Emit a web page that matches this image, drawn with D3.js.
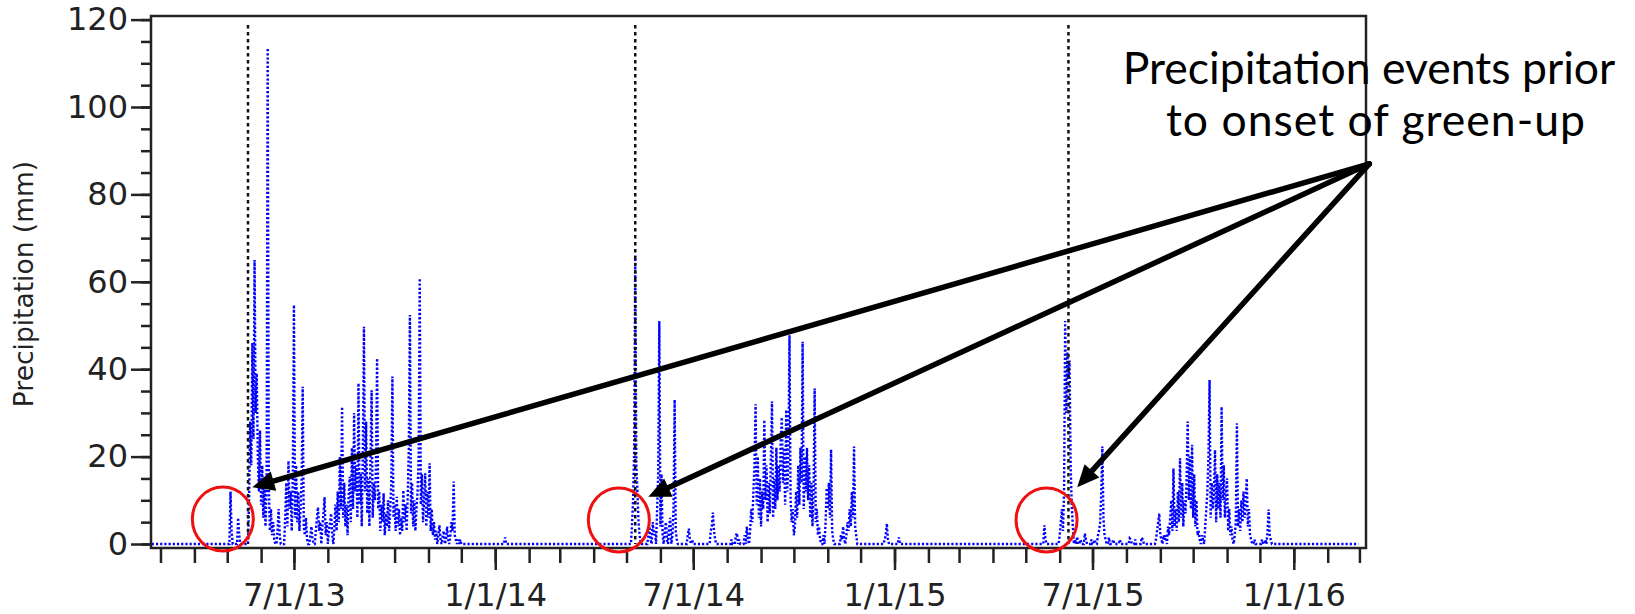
<!DOCTYPE html>
<html>
<head>
<meta charset="utf-8">
<script src="https://cdn.jsdelivr.net/npm/d3@7"></script>
<style>
  body { margin: 0; background: #fff; }
  svg { display: block; }
</style>
</head>
<body>
<script>
// Daily precipitation (mm). Days that are not listed had no rain.
var days2013 = ["05-04","05-05","05-11","05-12","05-21","05-22","05-23","05-24","05-25","05-26","05-27","05-28","05-29","05-30","05-31",
  "06-01","06-02","06-03","06-04","06-05","06-06","06-07","06-08","06-09","06-10","06-11","06-12","06-13","06-16","06-17","06-18","06-23","06-24","06-25","06-26","06-27","06-28","06-29","06-30",
  "07-01","07-02","07-03","07-04","07-05","07-06","07-07","07-08","07-09","07-10","07-11","07-12","07-13","07-16","07-17","07-18","07-21","07-22","07-23","07-24","07-25","07-27","07-28","07-29","07-30","07-31",
  "08-02","08-03","08-04","08-05","08-07","08-08","08-09","08-10","08-11","08-12","08-13","08-14","08-15","08-16","08-17","08-18","08-19","08-20","08-21","08-22","08-23","08-24","08-25","08-26","08-27","08-28","08-29","08-30","08-31",
  "09-01","09-02","09-03","09-04","09-05","09-06","09-07","09-08","09-09","09-10","09-11","09-12","09-13","09-14","09-15","09-16","09-17","09-18","09-19","09-20","09-21","09-22","09-23","09-24","09-25","09-26","09-27","09-28","09-29","09-30",
  "10-01","10-02","10-03","10-04","10-05","10-06","10-07","10-08","10-09","10-10","10-11","10-12","10-13","10-14","10-15","10-16","10-17","10-18","10-19","10-20","10-21","10-22","10-23","10-24","10-25","10-26","10-27","10-28","10-29","10-30","10-31",
  "11-01","11-02","11-03","11-04","11-05","11-06","11-07","11-08","11-10","11-11","11-12","11-14","11-15","11-17","11-18","11-19","11-21","11-22","11-23","11-24","11-25","11-26","11-28","11-30"];
var mm2013 = [12,3,6,2,10,28,18,46,24,65,30,39,20,12,26,
  9,18,6,14,4,12,113.5,14,3,8,2,5,1,3,8,2,6,14,4,19,8,12,3,16,
  54.7,6,18,5,12,3,8,14,36,4,2,6,1,2,4,1,3,6,8.4,3,5,4,7,10.7,2,5,
  3,5,7,2,4,9,3,12,5,20,8,31.4,6,14,4,9,2,11,15.4,5,22,8,30,12,18,6,36.8,9,16,
  4,21,49.7,12,28,7,15,4,20,35.2,6,14,10,18,42.5,8,12,3,9,5,11.6,2,7,4,10,3,8,14,38.3,6,
  9,3,10.8,4,8,2,6,3,12.3,5,9,3,11,22,52.4,7,14,4,10,3,8,12,20,60.8,9,16,5,10,16.2,4,12,
  6,18.5,3,8,2,5,1,3,2,4.3,1,2,3,1,4,1,2,5,3,14.3,2,1,1,1];

var days2014 = ["01-10","05-06","05-07","05-08","05-09","05-10","05-11","05-12","05-13","05-21","05-22","05-23","05-25","05-26","05-27","05-29","05-30","05-31",
  "06-01","06-02","06-03","06-05","06-06","06-07","06-09","06-10","06-12","06-13","06-14","06-15","06-16","06-26","06-27","06-28","06-30",
  "07-17","07-18","07-19","07-20","07-21","08-05","08-09","08-10","08-12","08-17","08-19","08-20","08-22","08-23","08-24","08-25","08-26","08-27","08-28","08-29","08-30","08-31",
  "09-01","09-02","09-03","09-04","09-05","09-06","09-07","09-08","09-09","09-10","09-11","09-12","09-13","09-14","09-15","09-16","09-17","09-18","09-19","09-20","09-21","09-22","09-23","09-24","09-25","09-26","09-27","09-28","09-29","09-30",
  "10-01","10-02","10-03","10-04","10-05","10-06","10-07","10-08","10-09","10-10","10-11","10-12","10-13","10-14","10-15","10-16","10-17","10-18","10-19","10-20","10-21","10-22","10-23","10-24","10-25","10-28","10-30","10-31",
  "11-01","11-02","11-03","11-04","11-05","11-06","11-13","11-14","11-15","11-16","11-18","11-19","11-20","11-21","11-22","11-23","11-24","11-25","11-26","11-27",
  "12-23","12-24","12-25","12-26"];
var mm2014 = [1.5,4,10,21,66,18,12,5,2,2,4,1,5,2,3,8,16,51,
  4,16,2,3,5,1,4,6,2,8,33,3,1,2,3.5,1,1,
  3,4,7.2,3,1,1,2,2.5,1,2,4,1,3,8,5,12,18,32,9,20,6,15,
  4,12,8,28.4,10,18,5,14,7,20,32.6,6,15,8,22,10,18,12,24,29,14,22,9,30.7,12,20,47.8,10,5,8,
  2,4,12,6,18,9,22,14,46.3,8,20,12,22,10,18,6,14,4,12,35.6,5,8,2,4,1,2,5,12.8,
  8,14,6,21.6,3,1,2,1,4,1,2,5,3,8,4,12,6,22.3,4,2,
  1,2,4.7,1];

var days2015 = ["01-05","05-18","05-19","06-01","06-02","06-03","06-04","06-05","06-06","06-07","06-08","06-09","06-10","06-11","06-12","06-13","06-15","06-17","06-20","06-24","06-25","06-30",
  "07-03","07-06","07-07","07-08","07-09","07-10","07-11","07-12","07-13","07-16","07-20","07-26","08-04","08-05","08-09","08-15","08-16","08-28","08-29","08-30","08-31",
  "09-01","09-02","09-04","09-05","09-06","09-08","09-09","09-10","09-11","09-12","09-13","09-14","09-15","09-16","09-17","09-18","09-19","09-20","09-21","09-22","09-23","09-24","09-25","09-26","09-27","09-28","09-29","09-30",
  "10-01","10-02","10-03","10-04","10-05","10-06","10-07","10-09","10-10","10-12","10-13","10-14","10-15","10-16","10-17","10-18","10-19","10-20","10-21","10-22","10-23","10-24","10-25","10-26","10-27","10-28","10-29","10-30","10-31",
  "11-01","11-02","11-03","11-04","11-05","11-06","11-08","11-09","11-10","11-11","11-12","11-13","11-14","11-15","11-16","11-17","11-18","11-19","11-20","11-21","11-22","11-23","11-26",
  "12-03","12-06","12-08","12-09","12-10","12-11"];
var mm2015 = [1.5,4.3,1,2,5,8,3,12,51,30,44,38,42,18,9,4,1,1.7,1,2.4,1,1,
  1,2,3,5,12,22.3,6,2,1,1.5,1,1,1.3,1,1,1.5,1,1,3,5,7,
  2,1,2,1,2,4,2,6,10,3,17.3,4,8,3,12,5,19.6,6,14,4,10,7,15,28,10,20,8,22.7,
  6,16,4,10,2,3,1,2,1,4,8,12,20,37.5,6,14,8,12,21.5,5,16,8,14,6,31.4,10,18,6,12,
  15,3,8,2,4,1,2,5,27.6,4,8,3,10,5,12,6,10,15,4,8,2,1,1,
  1,1,3,7.9,2,1];

// onset of green-up (dotted verticals)
var greenUpDates = ["2013-05-20", "2014-05-09", "2015-06-09"];
// labelled x ticks
var majorTickDates = ["2013-07-01", "2014-01-01", "2014-07-01", "2015-01-01", "2015-07-01", "2016-01-01"];
var yTickValues = [0, 20, 40, 60, 80, 100, 120];

// annotation: arrows start at one point and point at the early events, circles around them
var arrowFrom = ["2016-03-10", 87];
var arrowTips = [["2013-05-24", 13], ["2014-05-21", 10.8], ["2015-06-17", 13]];
var circleCenters = [["2013-04-27", 5.7], ["2014-04-24", 5.5], ["2015-05-20", 5.5]];

var w = 1635, h = 614;
var parse = d3.utcParse("%Y-%m-%d");
var fmt = d3.utcFormat("%Y-%m-%d");

var rain = new Map();
[[2013, days2013, mm2013], [2014, days2014, mm2014], [2015, days2015, mm2015]].forEach(function (s) {
  s[1].forEach(function (d, i) { rain.set(s[0] + "-" + d, s[2][i]); });
});
var series = d3.utcDay.range(parse("2013-02-21"), parse("2016-03-01")).map(function (d) {
  return { date: d, mm: rain.get(fmt(d)) || 0 };
});

var x = d3.scaleUtc()
  .domain([new Date(Date.UTC(2013, 1, 20, 8)), new Date(Date.UTC(2016, 2, 7))])
  .range([151, 1366]);
var y = d3.scaleLinear().domain([0, 120]).range([544, 19.6]);
var plotBottom = 548, plotTop = 16;

var svg = d3.select("body").append("svg")
  .attr("width", w)
  .attr("height", h);

// precipitation line
svg.append("path")
  .datum(series)
  .attr("fill", "none")
  .attr("stroke", "#0000ff")
  .attr("stroke-width", 2.4)
  .attr("stroke-dasharray", "2.2,2")
  .attr("d", d3.line().x(function (d) { return x(d.date); }).y(function (d) { return y(d.mm); }));

// green-up lines
svg.selectAll(".greenup")
  .data(greenUpDates)
  .enter()
  .append("line")
  .attr("x1", function (d) { return x(parse(d)); })
  .attr("x2", function (d) { return x(parse(d)); })
  .attr("y1", 25)
  .attr("y2", y(0))
  .attr("stroke", "#111")
  .attr("stroke-width", 2.5)
  .attr("stroke-dasharray", "3.5,3.5");

// frame
svg.append("rect")
  .attr("x", 151).attr("y", plotTop)
  .attr("width", 1366 - 151).attr("height", plotBottom - plotTop)
  .attr("fill", "none").attr("stroke", "#222").attr("stroke-width", 2.5);

// y axis
var yMinor = svg.append("g").attr("transform", "translate(151,0)")
  .call(d3.axisLeft(y).tickValues(d3.range(0, 121, 5)).tickSize(10).tickFormat(""));
var yMajor = svg.append("g").attr("transform", "translate(151,0)")
  .call(d3.axisLeft(y).tickValues(yTickValues).tickSize(20).tickPadding(3));

// x axis
var xMinor = svg.append("g").attr("transform", "translate(0," + plotBottom + ")")
  .call(d3.axisBottom(x).tickValues(d3.utcMonth.range(parse("2013-03-01"), parse("2016-03-02"))).tickSize(15).tickFormat(""));
var xMajor = svg.append("g").attr("transform", "translate(0," + plotBottom + ")")
  .call(d3.axisBottom(x).tickValues(majorTickDates.map(parse)).tickSize(22).tickPadding(13)
    .tickFormat(d3.utcFormat("%-m/%-d/%y")));

[yMinor, yMajor, xMinor, xMajor].forEach(function (g) {
  g.select(".domain").remove();
  g.selectAll("line").attr("stroke", "#222").attr("stroke-width", 2.5);
  g.selectAll("text")
    .attr("font-family", "DejaVu Sans, sans-serif")
    .attr("font-size", "32px")
    .attr("fill", "#222");
});

svg.append("text")
  .attr("transform", "translate(33,284) rotate(-90)")
  .attr("text-anchor", "middle")
  .attr("font-family", "DejaVu Sans, sans-serif")
  .attr("font-size", "26.5px")
  .attr("fill", "#222")
  .text("Precipitation (mm)");

// red circles
svg.selectAll(".ring")
  .data(circleCenters)
  .enter()
  .append("ellipse")
  .attr("cx", function (d) { return x(parse(d[0])); })
  .attr("cy", function (d) { return y(d[1]); })
  .attr("rx", 30.5)
  .attr("ry", 32)
  .attr("fill", "none")
  .attr("stroke", "#ee1111")
  .attr("stroke-width", 3);

// arrows
var headLen = 22, headHalf = 10;
var ax = x(parse(arrowFrom[0])), ay = y(arrowFrom[1]);
arrowTips.forEach(function (t) {
  var tx = x(parse(t[0])), ty = y(t[1]);
  var dx = tx - ax, dy = ty - ay, len = Math.sqrt(dx * dx + dy * dy);
  var ux = dx / len, uy = dy / len;
  var bx = tx - ux * headLen, by = ty - uy * headLen;
  svg.append("line")
    .attr("x1", ax).attr("y1", ay)
    .attr("x2", bx + ux * 2).attr("y2", by + uy * 2)
    .attr("stroke", "#000").attr("stroke-width", 5.5)
    .attr("stroke-linecap", "round");
  svg.append("path")
    .attr("d", "M" + tx + "," + ty +
      "L" + (bx - uy * headHalf) + "," + (by + ux * headHalf) +
      "L" + (bx + uy * headHalf) + "," + (by - ux * headHalf) + "Z")
    .attr("fill", "#000");
});

// annotation text
svg.append("text")
  .attr("x", 1369).attr("y", 84)
  .attr("text-anchor", "middle")
  .attr("font-family", "Lato, sans-serif")
  .attr("font-size", "44.5px")
  .text("Precipitation events prior");
svg.append("text")
  .attr("x", 1376).attr("y", 136)
  .attr("text-anchor", "middle")
  .attr("font-family", "Lato, sans-serif")
  .attr("font-size", "44.5px")
  .attr("letter-spacing", "1px")
  .text("to onset of green-up");
</script>
</body>
</html>
